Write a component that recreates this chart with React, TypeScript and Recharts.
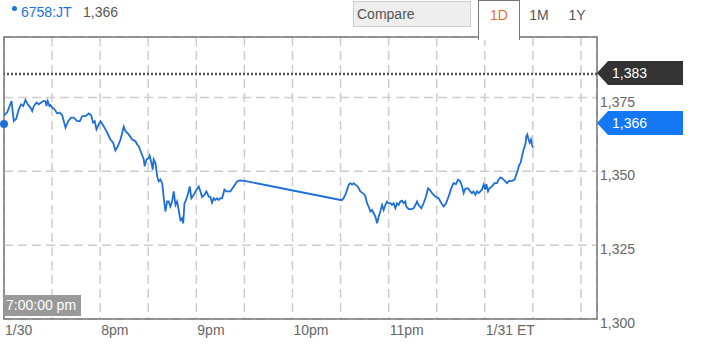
import {
  CartesianGrid,
  Line,
  LineChart,
  ReferenceArea,
  ReferenceDot,
  ReferenceLine,
  XAxis,
  YAxis
} from "recharts";

// minutes after 7:00 pm ET
const minutes = [
  0, 2, 4.7, 6.1, 7.6, 9.2, 10.7, 12, 13.4, 14.8, 16.5, 17.6, 18.6, 20.3, 21.7, 24.4, 25.9, 26.5,
  27.3, 28.4, 29, 30.1, 31.5, 33.2, 34.8, 36.3, 38.4, 40, 41.9, 43.5, 45.7, 47.3, 48.8, 50.8, 52.9,
  54.4, 55.6, 56.6, 57.7, 59.1, 60.2, 62.2, 64.4, 66.4, 68.1, 69.5, 71, 72.7, 74.7, 75.8, 77.8, 80,
  82, 83.1, 84.1, 85.6, 87.2, 87.8, 88.9, 90.3, 90.9, 92, 92.8, 93.4, 94.5, 95.6, 96.5, 97.6, 98.7,
  99.7, 100.7, 101.8, 102.8, 103.8, 104.9, 105.9, 107, 108, 109, 110.1, 111.1, 111.8, 112.6, 113.6,
  114.9, 115.9, 116.9, 118.4, 120.1, 121.5, 122.6, 123.6, 125.1, 126.3, 127.7, 128.8, 129.8, 130.9,
  131.9, 133, 134, 135, 136.1, 137.5, 138.8, 141.3, 143.3, 145.4, 147.1, 150,
  210, 210.9, 211.9, 213, 214.1, 215.1, 216.1, 217.2, 218.2, 219.2, 220.3, 221.3, 222.3, 223.4,
  224.4, 225.5, 226.5, 227.5, 228.6, 229.6, 230.7, 231.7, 232.8, 233.8, 234.8, 235.9, 236.9, 237.9,
  239, 240, 241.1, 242.1, 243.1, 244.2, 245.2, 246.2, 247.3, 248.4, 249.4, 250.4, 251, 252.5, 254.2,
  255.6, 256.7, 257.7, 258.7, 260.4, 261.8, 263.3, 264.6, 266, 267.1, 269.1, 271.2, 272.9, 274.3,
  275.8, 277.4, 279.1, 280.5, 282, 283.3, 284.7, 285.8, 286.8, 287.8, 289.5, 290.9, 292, 293, 294.1,
  295.1, 296.1, 297.2, 298.2, 299.3, 300.3, 300.9, 302, 303, 304.5, 306.1, 307.6, 308.6, 309.7,
  310.7, 311.7, 312.8, 313.8, 315.3, 317, 318.6, 319.6, 320.7, 321.5, 322.3, 323.2, 324.2, 325.3,
  325.9, 326.5, 327.3, 328, 328.8, 329.4, 330.1
];

const prices = [
  1369.0, 1370.0, 1373.8, 1367.0, 1367.8, 1371.0, 1372.7, 1372.1, 1374.2, 1372.7, 1371.6, 1370.4,
  1372.1, 1373.3, 1372.7, 1373.8, 1373.8, 1372.1, 1373.8, 1372.1, 1372.4, 1371.6, 1371.0, 1369.6,
  1369.9, 1369.0, 1364.8, 1367.0, 1368.2, 1368.2, 1367.0, 1367.0, 1368.7, 1368.7, 1369.6, 1369.0,
  1366.5, 1367.0, 1364.2, 1365.9, 1367.0, 1365.3, 1363.1, 1360.8, 1359.7, 1357.1, 1358.5, 1360.8,
  1365.1, 1363.6, 1362.5, 1360.8, 1360.2, 1359.1, 1358.5, 1356.3, 1354.0, 1351.7, 1354.0, 1354.5,
  1355.3, 1352.8, 1350.6, 1354.0, 1352.8, 1348.3, 1346.6, 1347.2, 1346.0, 1340.9, 1336.4, 1339.8,
  1339.8, 1338.1, 1339.8, 1343.2, 1338.6, 1339.8, 1336.9, 1333.5, 1334.1, 1332.4, 1339.2, 1340.3,
  1342.6, 1344.9, 1340.9, 1342.1, 1343.8, 1344.9, 1343.2, 1341.3, 1342.1, 1343.2, 1341.5, 1341.3,
  1339.4, 1340.9, 1340.3, 1340.9, 1340.3, 1340.9, 1340.9, 1343.8, 1343.2, 1343.2, 1344.9, 1346.6,
  1346.9, 1346.8,
  1340.3, 1340.3, 1340.9, 1342.1, 1343.8, 1345.5, 1346.0, 1345.5, 1346.0, 1345.5, 1345.1, 1344.3,
  1343.2, 1342.8, 1342.4, 1341.5, 1339.2, 1338.1, 1336.4, 1336.9, 1335.8, 1334.7, 1332.4, 1334.7,
  1336.4, 1338.6, 1336.9, 1338.6, 1339.8, 1339.2, 1339.2, 1338.6, 1339.2, 1337.5, 1339.2, 1338.6,
  1339.8, 1340.1, 1339.2, 1339.8, 1338.1, 1337.2, 1337.2, 1337.5, 1338.6, 1339.8, 1338.6, 1337.5,
  1339.2, 1341.5, 1344.3, 1343.5, 1342.6, 1341.5, 1340.9, 1339.2, 1338.1, 1339.2, 1341.5, 1344.3,
  1346.0, 1345.7, 1347.2, 1346.6, 1344.9, 1342.6, 1344.1, 1344.3, 1343.2, 1342.6, 1343.2, 1342.1,
  1343.2, 1342.6, 1343.2, 1343.8, 1345.5, 1343.8, 1345.7, 1343.2, 1344.3, 1344.9, 1346.0, 1346.0,
  1347.2, 1347.9, 1347.7, 1347.2, 1346.6, 1346.0, 1346.8, 1346.8, 1347.2, 1348.9, 1350.6, 1352.3,
  1352.8, 1355.1, 1357.4, 1359.1, 1361.9, 1362.5, 1360.8, 1359.7, 1360.8, 1359.1, 1358.0
];

const gridTicks = [0, 30, 60, 90, 120, 150, 180, 210, 240, 270, 300, 330, 360];
const hourTicks = [0, 60, 120, 180, 240, 300];
const hourLabels = ["1/30", "8pm", "9pm", "10pm", "11pm", "1/31 ET"];
const priceTicks = [1300, 1325, 1350, 1375];
const symbol = "6758:JT";
const lastPrice = 1366;
const prevClose = 1383;
const ranges = ["1D", "1M", "1Y"];
const cursorLabel = "7:00:00 pm";

const data = minutes.map((t, i) => ({ t, price: prices[i] }));

const FONT = '"Liberation Sans", Arial, sans-serif';
const fmt = new Intl.NumberFormat("en-US");

function TimeTick(props: any) {
  const { x, y, payload } = props;
  const idx = hourTicks.indexOf(payload.value);
  if (idx < 0) return <g />;
  return (
    <text x={x + 1} y={y + 16} fill="#666" fontSize={14} fontFamily={FONT}>
      {hourLabels[idx]}
    </text>
  );
}

function PriceTick(props: any) {
  const { x, y, payload } = props;
  return (
    <text x={x + 3} y={y + 9} fill="#666" fontSize={14} fontFamily={FONT}>
      {fmt.format(payload.value)}
    </text>
  );
}

function Flag(props: any) {
  const { viewBox, text, fill } = props;
  const x = viewBox.x + viewBox.width;
  const y = viewBox.y - 1;
  return (
    <g>
      <polygon
        points={`${x},${y} ${x + 11},${y - 12} ${x + 86},${y - 12} ${x + 86},${y + 12} ${x + 11},${y + 12}`}
        fill={fill}
      />
      <text x={x + 15} y={y + 5} fill="#fff" fontSize={14} fontFamily={FONT}>
        {text}
      </text>
    </g>
  );
}

export default function App() {
  return (
    <div
      style={{
        position: "absolute",
        left: 0,
        top: 0,
        width: 704,
        height: 356,
        background: "#fff",
        fontFamily: FONT,
        fontSize: 14
      }}
    >
      <LineChart
        width={704}
        height={356}
        data={data}
        margin={{ top: 37, right: 0, bottom: 7, left: 4 }}
      >
        <CartesianGrid stroke="#cdcdcd" strokeWidth={1.5} strokeDasharray="9 5" />
        <XAxis
          dataKey="t"
          type="number"
          domain={[0, 370]}
          allowDataOverflow
          ticks={gridTicks}
          interval={0}
          tickLine={false}
          axisLine={false}
          tickSize={0}
          tickMargin={0}
          height={30}
          tick={<TimeTick />}
        />
        <YAxis
          orientation="right"
          type="number"
          domain={[1300, 1395.5]}
          allowDataOverflow
          ticks={priceTicks}
          interval={0}
          tickLine={false}
          axisLine={false}
          tickSize={0}
          tickMargin={0}
          width={107}
          tick={<PriceTick />}
        />
        <ReferenceArea
          x1={0}
          x2={370}
          y1={1300}
          y2={1395.5}
          fill="none"
          stroke="#777"
          strokeWidth={1.5}
        />
        <ReferenceLine
          y={prevClose}
          stroke="#555"
          strokeWidth={2.5}
          strokeDasharray="2 2"
          label={<Flag text={fmt.format(prevClose)} fill="#333" />}
        />
        <ReferenceLine
          y={lastPrice}
          stroke="none"
          strokeOpacity={0}
          label={<Flag text={fmt.format(lastPrice)} fill="#1478f5" />}
        />
        <Line
          type="linear"
          dataKey="price"
          stroke="#1f6fd8"
          strokeWidth={1.8}
          dot={false}
          activeDot={false}
          isAnimationActive={false}
        />
        <ReferenceDot x={0} y={lastPrice} r={4} fill="#1f6fd8" stroke="none" />
      </LineChart>

      <div style={{ position: "absolute", left: 12, top: 6, width: 5, height: 5, borderRadius: 3, background: "#1a73e8" }} />
      <div style={{ position: "absolute", left: 21, top: 4, lineHeight: "16px", color: "#1a6fe0" }}>{symbol}</div>
      <div style={{ position: "absolute", left: 83, top: 4, lineHeight: "16px", color: "#555" }}>{fmt.format(lastPrice)}</div>

      <div
        style={{
          position: "absolute",
          left: 353,
          top: 1,
          width: 113,
          height: 24,
          background: "#eee",
          border: "1px solid #ccc",
          color: "#555",
          lineHeight: "24px",
          paddingLeft: 3,
          boxSizing: "content-box"
        }}
      >
        Compare
      </div>

      <div
        style={{
          position: "absolute",
          left: 478,
          top: 0,
          width: 40,
          height: 39,
          background: "#fff",
          borderLeft: "1px solid #777",
          borderRight: "1px solid #777",
          borderTop: "1px solid #777",
          color: "#e8702e",
          textAlign: "center",
          lineHeight: "28px"
        }}
      >
        {ranges[0]}
      </div>
      <div style={{ position: "absolute", left: 524, top: 1, width: 30, textAlign: "center", lineHeight: "28px", color: "#555" }}>{ranges[1]}</div>
      <div style={{ position: "absolute", left: 562, top: 1, width: 30, textAlign: "center", lineHeight: "28px", color: "#555" }}>{ranges[2]}</div>

      <div
        style={{
          position: "absolute",
          left: 4,
          top: 295,
          width: 75,
          height: 21,
          paddingLeft: 2,
          background: "#999",
          color: "#fff",
          lineHeight: "21px"
        }}
      >
        {cursorLabel}
      </div>
    </div>
  );
}
